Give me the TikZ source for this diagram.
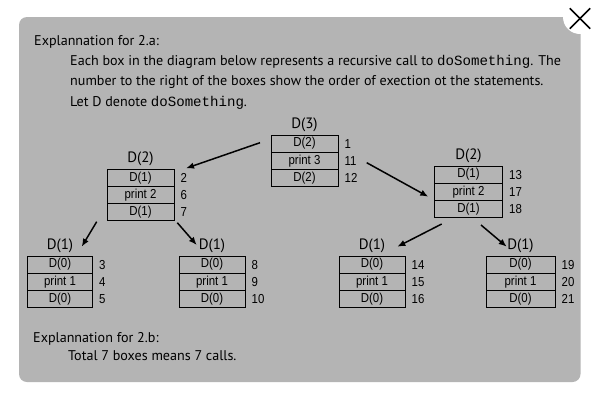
\documentclass[tikz,border=0pt]{standalone}
\usepackage{fontspec}
\setmainfont{PT Sans}
\newfontfamily\narrowfont{PT Sans}
\newfontfamily\boxfont[FakeStretch=0.88]{Liberation Sans}
\newfontfamily\codefont{Liberation Mono}
\usetikzlibrary{arrows.meta}
\definecolor{panelgray}{RGB}{180,180,180}
\tikzset{
  row/.style={draw, line width=1pt, minimum height=17.2pt, inner sep=0pt, outer sep=0pt,
    font=\boxfont\fontsize{13}{13}\selectfont, anchor=north},
  num/.style={anchor=west, inner sep=0pt, font=\boxfont\fontsize{13}{13}\selectfont},
  calltitle/.style={anchor=south, inner sep=0pt, font=\narrowfont\fontsize{15}{15}\selectfont},
  txt/.style={anchor=base west, inner sep=0pt, font=\narrowfont\fontsize{14.1}{20}\selectfont},
  callarrow/.style={line width=1.5pt, -{Latex[length=8pt,width=6.5pt]}},
}
\newcommand\code[1]{{\codefont\fontsize{14.1}{20}\selectfont #1}}
\newcommand\callbox[8]{%
  \node[row, minimum width=#4] (#1a) at (#2,#3) {D(\number\numexpr#5-1\relax)};
  \node[row, minimum width=#4] (#1b) at (#1a.south) {print #5};
  \node[row, minimum width=#4] (#1c) at (#1b.south) {D(\number\numexpr#5-1\relax)};
  \node[calltitle] (#1t) at ([yshift=3.5pt]#1a.north) {D(#5)};
  \node[num] (#1n1) at ([xshift=6.5pt]#1a.east) {#6};
  \node[num] (#1n2) at ([xshift=6.5pt]#1b.east) {#7};
  \node[num] (#1n3) at ([xshift=6.5pt]#1c.east) {#8};
}
\begin{document}
\begin{tikzpicture}[x=1pt,y=-1pt]
\useasboundingbox (0,0) rectangle (600,400);
\fill[white] (0,0) rectangle (600,400);
% panel
\fill[panelgray, rounded corners=8pt] (19,17) rectangle (580.5,382);
\fill[white] (580,17) circle (17);
\node[inner sep=0pt, minimum size=20pt] (close) at (580,18.5) {};
\draw[line width=1.6pt] (close.north west) -- (close.south east);
\draw[line width=1.6pt] (close.north east) -- (close.south west);
% texts
\node[txt] (h1) at (34,45) {Explannation for 2.a:};
\node[txt] (l1) at (70,65) {Each box in the diagram below represents a recursive call to \code{doSomething}. The};
\node[txt] (l2) at (70,85) {number to the right of the boxes show the order of exection ot the statements.};
\node[txt] (l3) at (70,106) {Let D denote \code{doSomething}.};
\node[txt] (h2) at (33,342) {Explannation for 2.b:};
\node[txt] (l4) at (68,360) {Total 7 boxes means 7 calls.};
% boxes
\callbox{r}{304.5}{135}{67}{3}{1}{11}{12}
\callbox{L}{140.5}{169.3}{67}{2}{2}{6}{7}
\callbox{R}{468.5}{166}{68}{2}{13}{17}{18}
\callbox{LL}{60}{256}{65}{1}{3}{4}{5}
\callbox{LR}{212}{256}{66}{1}{8}{9}{10}
\callbox{RL}{372}{256}{66}{1}{14}{15}{16}
\callbox{RR}{520.5}{256}{69}{1}{19}{20}{21}
% arrow ends
\coordinate (a1s) at (260,142.7); \coordinate (a1e) at (186,168.3);
\coordinate (a2s) at (366.7,162.7); \coordinate (a2e) at (428.3,196.7);
\coordinate (a3s) at (96.7,221.7); \coordinate (a3e) at (81.7,246.7);
\coordinate (a4s) at (177.3,222.7); \coordinate (a4e) at (196.7,245);
\coordinate (a5s) at (441.7,224); \coordinate (a5e) at (397.3,246.7);
\coordinate (a6s) at (481,225); \coordinate (a6e) at (506.7,246.7);
\draw[callarrow] (a1s) -- (a1e);
\draw[callarrow] (a2s) -- (a2e);
\draw[callarrow] (a3s) -- (a3e);
\draw[callarrow] (a4s) -- (a4e);
\draw[callarrow] (a5s) -- (a5e);
\draw[callarrow] (a6s) -- (a6e);
\end{tikzpicture}
\end{document}
